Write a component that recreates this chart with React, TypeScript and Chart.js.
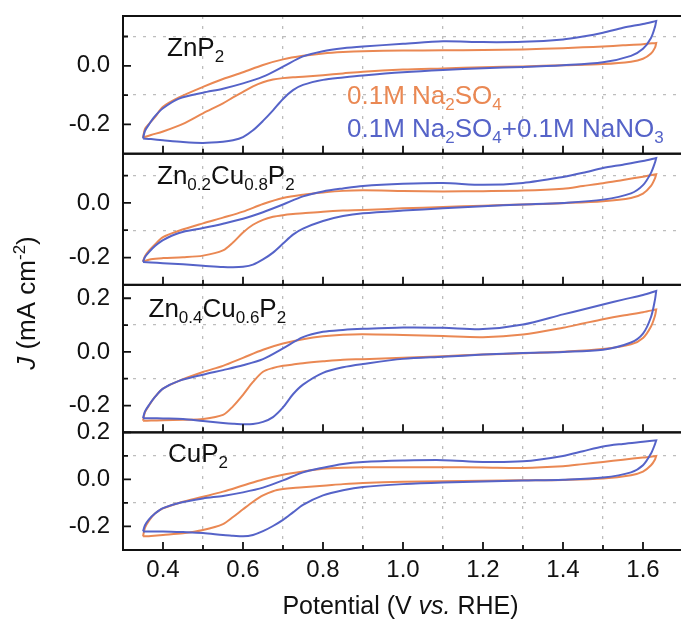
import React, { useEffect, useRef } from "react";
import { Chart, registerables } from "chart.js";

Chart.register(...registerables);

// Potential grid of the anodic (forward) and cathodic (reverse) scans, V vs. RHE
const V_FWD = [0.35, 0.355, 0.365, 0.38, 0.40, 0.44, 0.50, 0.55, 0.60, 0.65, 0.70, 0.75, 0.80, 0.85, 0.90, 1.00, 1.10, 1.20, 1.30, 1.40, 1.45, 1.50, 1.55, 1.60, 1.633];
const V_REV = [1.633, 1.63, 1.62, 1.60, 1.57, 1.50, 1.40, 1.30, 1.20, 1.10, 1.00, 0.90, 0.85, 0.80, 0.75, 0.725, 0.70, 0.675, 0.65, 0.625, 0.60, 0.575, 0.55, 0.50, 0.45, 0.40, 0.37, 0.35];

// ZnP2
const ZNP2_SO4_FWD = [-0.245, -0.215, -0.198, -0.175, -0.14, -0.108, -0.072, -0.045, -0.022, 0.003, 0.022, 0.034, 0.042, 0.047, 0.05, 0.052, 0.053, 0.054, 0.056, 0.06, 0.063, 0.066, 0.07, 0.074, 0.078];
const ZNP2_SO4_REV = [0.078, 0.062, 0.042, 0.024, 0.014, 0.006, 0.002, -0.002, -0.005, -0.009, -0.013, -0.02, -0.026, -0.032, -0.037, -0.039, -0.042, -0.047, -0.056, -0.07, -0.089, -0.108, -0.128, -0.162, -0.198, -0.224, -0.236, -0.245];
const ZNP2_NO3_FWD = [-0.248, -0.222, -0.2, -0.172, -0.145, -0.112, -0.092, -0.078, -0.06, -0.037, -0.003, 0.032, 0.05, 0.06, 0.066, 0.075, 0.084, 0.081, 0.082, 0.09, 0.1, 0.113, 0.13, 0.143, 0.153];
const ZNP2_NO3_REV = [0.153, 0.133, 0.095, 0.058, 0.034, 0.012, 0.002, -0.004, -0.008, -0.014, -0.022, -0.033, -0.04, -0.048, -0.065, -0.083, -0.113, -0.152, -0.188, -0.22, -0.243, -0.254, -0.259, -0.263, -0.26, -0.254, -0.25, -0.248];

// Zn0.2Cu0.8P2
const ZC28_SO4_FWD = [-0.215, -0.195, -0.175, -0.152, -0.125, -0.102, -0.075, -0.054, -0.032, -0.004, 0.018, 0.03, 0.038, 0.044, 0.046, 0.044, 0.042, 0.043, 0.045, 0.052, 0.062, 0.072, 0.084, 0.096, 0.105];
const ZC28_SO4_REV = [0.105, 0.09, 0.062, 0.034, 0.018, 0.006, -0.001, -0.006, -0.01, -0.015, -0.02, -0.026, -0.028, -0.032, -0.038, -0.041, -0.045, -0.051, -0.062, -0.08, -0.108, -0.145, -0.174, -0.193, -0.199, -0.202, -0.206, -0.215];
const ZC28_NO3_FWD = [-0.216, -0.198, -0.18, -0.158, -0.136, -0.11, -0.092, -0.076, -0.058, -0.034, -0.006, 0.024, 0.042, 0.053, 0.062, 0.07, 0.073, 0.066, 0.073, 0.095, 0.11, 0.128, 0.14, 0.153, 0.164];
const ZC28_NO3_REV = [0.164, 0.148, 0.11, 0.065, 0.035, 0.012, 0.0, -0.006, -0.012, -0.02, -0.028, -0.038, -0.048, -0.066, -0.094, -0.116, -0.149, -0.182, -0.207, -0.226, -0.234, -0.236, -0.235, -0.23, -0.225, -0.221, -0.218, -0.216];

// Zn0.4Cu0.6P2
const ZC46_SO4_FWD = [-0.257, -0.225, -0.2, -0.168, -0.137, -0.108, -0.075, -0.052, -0.022, 0.008, 0.031, 0.047, 0.058, 0.064, 0.066, 0.063, 0.059, 0.055, 0.065, 0.09, 0.106, 0.122, 0.136, 0.148, 0.158];
const ZC46_SO4_REV = [0.158, 0.135, 0.095, 0.052, 0.028, 0.011, 0.001, -0.005, -0.01, -0.016, -0.022, -0.027, -0.029, -0.035, -0.042, -0.047, -0.052, -0.06, -0.074, -0.112, -0.16, -0.203, -0.235, -0.25, -0.253, -0.255, -0.256, -0.257];
const ZC46_NO3_FWD = [-0.247, -0.222, -0.198, -0.168, -0.137, -0.108, -0.085, -0.068, -0.05, -0.027, 0.013, 0.055, 0.075, 0.082, 0.086, 0.091, 0.09, 0.085, 0.102, 0.14, 0.158, 0.177, 0.195, 0.212, 0.227];
const ZC46_NO3_REV = [0.227, 0.195, 0.13, 0.068, 0.035, 0.008, 0.0, -0.004, -0.01, -0.018, -0.026, -0.045, -0.057, -0.078, -0.122, -0.158, -0.207, -0.243, -0.261, -0.269, -0.27, -0.268, -0.265, -0.258, -0.25, -0.248, -0.247, -0.247];

// CuP2
const CUP2_SO4_FWD = [-0.242, -0.205, -0.175, -0.145, -0.123, -0.1, -0.074, -0.052, -0.026, 0.0, 0.02, 0.034, 0.045, 0.05, 0.052, 0.052, 0.052, 0.051, 0.049, 0.056, 0.065, 0.074, 0.084, 0.093, 0.1];
const CUP2_SO4_REV = [0.1, 0.085, 0.06, 0.033, 0.018, 0.004, -0.002, -0.004, -0.006, -0.008, -0.01, -0.015, -0.02, -0.027, -0.033, -0.036, -0.041, -0.05, -0.068, -0.095, -0.127, -0.16, -0.19, -0.215, -0.229, -0.236, -0.24, -0.242];
const CUP2_NO3_FWD = [-0.221, -0.195, -0.17, -0.145, -0.122, -0.1, -0.081, -0.07, -0.055, -0.035, -0.004, 0.03, 0.05, 0.066, 0.074, 0.08, 0.082, 0.074, 0.077, 0.1, 0.12, 0.14, 0.151, 0.16, 0.166];
const CUP2_NO3_REV = [0.166, 0.15, 0.11, 0.06, 0.03, 0.008, -0.001, -0.005, -0.009, -0.013, -0.02, -0.032, -0.046, -0.068, -0.108, -0.14, -0.172, -0.198, -0.22, -0.236, -0.242, -0.239, -0.236, -0.228, -0.224, -0.221, -0.221, -0.221];

// Axis ticks
const X_TICKS = [0.4, 0.5, 0.6, 0.7, 0.8, 0.9, 1.0, 1.1, 1.2, 1.3, 1.4, 1.5, 1.6];
const Y_TICKS = [-0.2, -0.1, 0.0, 0.1, 0.2];
const X_MIN = 0.3;
const X_MAX = 1.7;

// Panel y ranges (top to bottom)
const Y_MIN = [-0.3, -0.3, -0.3, -0.3];
const Y_MAX = [0.17, 0.18, 0.25, 0.2];

const ORANGE = "#EA8853";
const BLUE = "#5563C8";
const GRID = "#bdbdbd";
const INK = "#111111";
const FONT = '"Liberation Sans", Arial, Helvetica, sans-serif';

type Seg = { t: string; s?: "sub" | "sup" | "it" };

const PANELS = [
  { id: "y1", so4: [ZNP2_SO4_FWD, ZNP2_SO4_REV], no3: [ZNP2_NO3_FWD, ZNP2_NO3_REV], label: [{ t: "ZnP" }, { t: "2", s: "sub" }] as Seg[], lx: 167, ly: 56, h: 137.8 },
  { id: "y2", so4: [ZC28_SO4_FWD, ZC28_SO4_REV], no3: [ZC28_NO3_FWD, ZC28_NO3_REV], label: [{ t: "Zn" }, { t: "0.2", s: "sub" }, { t: "Cu" }, { t: "0.8", s: "sub" }, { t: "P" }, { t: "2", s: "sub" }] as Seg[], lx: 157, ly: 183.5, h: 131.2 },
  { id: "y3", so4: [ZC46_SO4_FWD, ZC46_SO4_REV], no3: [ZC46_NO3_FWD, ZC46_NO3_REV], label: [{ t: "Zn" }, { t: "0.4", s: "sub" }, { t: "Cu" }, { t: "0.6", s: "sub" }, { t: "P" }, { t: "2", s: "sub" }] as Seg[], lx: 148.5, ly: 316.5, h: 147.6 },
  { id: "y4", so4: [CUP2_SO4_FWD, CUP2_SO4_REV], no3: [CUP2_NO3_FWD, CUP2_NO3_REV], label: [{ t: "CuP" }, { t: "2", s: "sub" }] as Seg[], lx: 168, ly: 462, h: 117.7 },
];

const isEven = (v: number) => Math.abs(Math.round(v * 10)) % 2 === 0;

function loop(fwd: number[], rev: number[]) {
  return V_FWD.map((v, i) => ({ x: v, y: fwd[i] })).concat(V_REV.map((v, i) => ({ x: v, y: rev[i] })));
}

function segFont(seg: Seg, size: number) {
  if (seg.s === "sub" || seg.s === "sup") return `${Math.round(size * 0.65)}px ${FONT}`;
  if (seg.s === "it") return `italic ${size}px ${FONT}`;
  return `${size}px ${FONT}`;
}

function drawRich(ctx: CanvasRenderingContext2D, segs: Seg[], x: number, y: number, size: number, color: string, center = false) {
  let total = 0;
  const widths = segs.map((sg) => {
    ctx.font = segFont(sg, size);
    const w = ctx.measureText(sg.t).width;
    total += w;
    return w;
  });
  let cx = center ? x - total / 2 : x;
  ctx.fillStyle = color;
  ctx.textAlign = "left";
  ctx.textBaseline = "alphabetic";
  segs.forEach((sg, i) => {
    ctx.font = segFont(sg, size);
    const dy = sg.s === "sub" ? size * 0.24 : sg.s === "sup" ? -size * 0.38 : 0;
    ctx.fillText(sg.t, cx, y + dy);
    cx += widths[i];
  });
}

const decorPlugin = {
  id: "decor",
  afterDraw(chart: any) {
    const ctx: CanvasRenderingContext2D = chart.ctx;
    const ca = chart.chartArea;
    const xs = chart.scales.x;
    ctx.save();
    ctx.strokeStyle = INK;
    PANELS.forEach((p) => {
      const ys = chart.scales[p.id];
      ctx.lineWidth = 2;
      ctx.setLineDash([]);
      ctx.strokeRect(ca.left, ys.top, ca.right - ca.left, ys.bottom - ys.top);
      ctx.lineWidth = 1.8;
      ctx.beginPath();
      X_TICKS.forEach((v) => {
        const x = xs.getPixelForValue(v);
        const len = isEven(v) ? 8 : 5;
        ctx.moveTo(x, ys.bottom);
        ctx.lineTo(x, ys.bottom - len);
      });
      ys.ticks.forEach((t: any) => {
        const y = ys.getPixelForValue(t.value);
        const len = isEven(t.value) ? 8 : 5;
        ctx.moveTo(ca.left, y);
        ctx.lineTo(ca.left + len, y);
      });
      ctx.stroke();
      drawRich(ctx, p.label, p.lx, p.ly, 26, INK);
    });

    // Legend
    drawRich(ctx, [{ t: "0.1M Na" }, { t: "2", s: "sub" }, { t: "SO" }, { t: "4", s: "sub" }], 347, 103.5, 26, ORANGE);
    drawRich(ctx, [{ t: "0.1M Na" }, { t: "2", s: "sub" }, { t: "SO" }, { t: "4", s: "sub" }, { t: "+0.1M NaNO" }, { t: "3", s: "sub" }], 347, 137, 26, BLUE);

    // Axis titles
    drawRich(ctx, [{ t: "Potential (V " }, { t: "vs.", s: "it" }, { t: " RHE)" }], 400.5, 614, 25, INK, true);
    ctx.save();
    ctx.translate(35, 303);
    ctx.rotate(-Math.PI / 2);
    drawRich(ctx, [{ t: "J", s: "it" }, { t: " (mA cm" }, { t: "-2", s: "sup" }, { t: ")" }], 0, 0, 26, INK, true);
    ctx.restore();
    ctx.restore();
  },
};

export default function App() {
  const ref = useRef<HTMLCanvasElement | null>(null);

  useEffect(() => {
    if (!ref.current) return;
    const datasets: any[] = [];
    PANELS.forEach((p) => {
      datasets.push({
        label: "0.1M Na2SO4+0.1M NaNO3",
        data: loop(p.no3[0], p.no3[1]),
        yAxisID: p.id,
        borderColor: BLUE,
        backgroundColor: BLUE,
        borderWidth: 2,
        pointRadius: 0,
        showLine: true,
        tension: 0.3,
        fill: false,
      });
    });
    PANELS.forEach((p) => {
      datasets.push({
        label: "0.1M Na2SO4",
        data: loop(p.so4[0], p.so4[1]),
        yAxisID: p.id,
        borderColor: ORANGE,
        backgroundColor: ORANGE,
        borderWidth: 2,
        pointRadius: 0,
        showLine: true,
        tension: 0.3,
        fill: false,
      });
    });

    const scales: any = {
      x: {
        type: "linear",
        position: "bottom",
        min: X_MIN,
        max: X_MAX,
        afterBuildTicks: (s: any) => {
          s.ticks = X_TICKS.map((v) => ({ value: v }));
        },
        afterFit: (s: any) => {
          s.height = 72;
          s.paddingLeft = 0;
          s.paddingRight = 0;
          s.paddingTop = 0;
          s.paddingBottom = 0;
        },
        ticks: {
          autoSkip: false,
          maxRotation: 0,
          padding: 6,
          color: INK,
          font: { family: FONT, size: 24 },
          callback: (v: number) => (isEven(v) ? Number(v).toFixed(1) : ""),
        },
        grid: {
          drawTicks: false,
          lineWidth: 1.3,
          color: (c: any) => (c.tick && !isEven(c.tick.value) ? GRID : "rgba(0,0,0,0)"),
        },
        border: { display: false, dash: [3, 7] },
      },
    };
    PANELS.forEach((p, i) => {
      const mn = Y_MIN[i];
      const mx = Y_MAX[i];
      scales[p.id] = {
        type: "linear",
        position: "left",
        stack: "cv",
        stackWeight: p.h,
        weight: 10 - i,
        min: mn,
        max: mx,
        afterBuildTicks: (s: any) => {
          s.ticks = Y_TICKS.filter((v) => v >= mn - 1e-9 && v <= mx + 1e-9).map((v) => ({ value: v }));
        },
        afterFit: (s: any) => {
          s.width = 123;
          s.paddingTop = 0;
          s.paddingBottom = 0;
          s.paddingLeft = 0;
          s.paddingRight = 0;
        },
        ticks: {
          autoSkip: false,
          padding: 13,
          color: INK,
          font: { family: FONT, size: 24 },
          callback: (v: number) => (isEven(v) ? Number(v).toFixed(1) : ""),
        },
        grid: {
          drawTicks: false,
          lineWidth: 1.3,
          color: (c: any) => (c.tick && !isEven(c.tick.value) ? GRID : "rgba(0,0,0,0)"),
        },
        border: { display: false, dash: [3, 7] },
      };
    });

    const chart = new Chart(ref.current, {
      type: "scatter",
      data: { datasets },
      options: {
        responsive: false,
        animation: false,
        devicePixelRatio: 1,
        layout: { padding: { top: 16, right: 17, left: 0, bottom: 0 } },
        plugins: { legend: { display: false }, tooltip: { enabled: false }, title: { display: false } },
        scales,
      },
      plugins: [decorPlugin],
    } as any);
    return () => chart.destroy();
  }, []);

  return (
    <div style={{ position: "fixed", left: 0, top: 0, width: 681, height: 622, overflow: "hidden", background: "#fff" }}>
      <canvas ref={ref} width={700} height={622} style={{ display: "block", width: 700, height: 622 }} />
    </div>
  );
}
